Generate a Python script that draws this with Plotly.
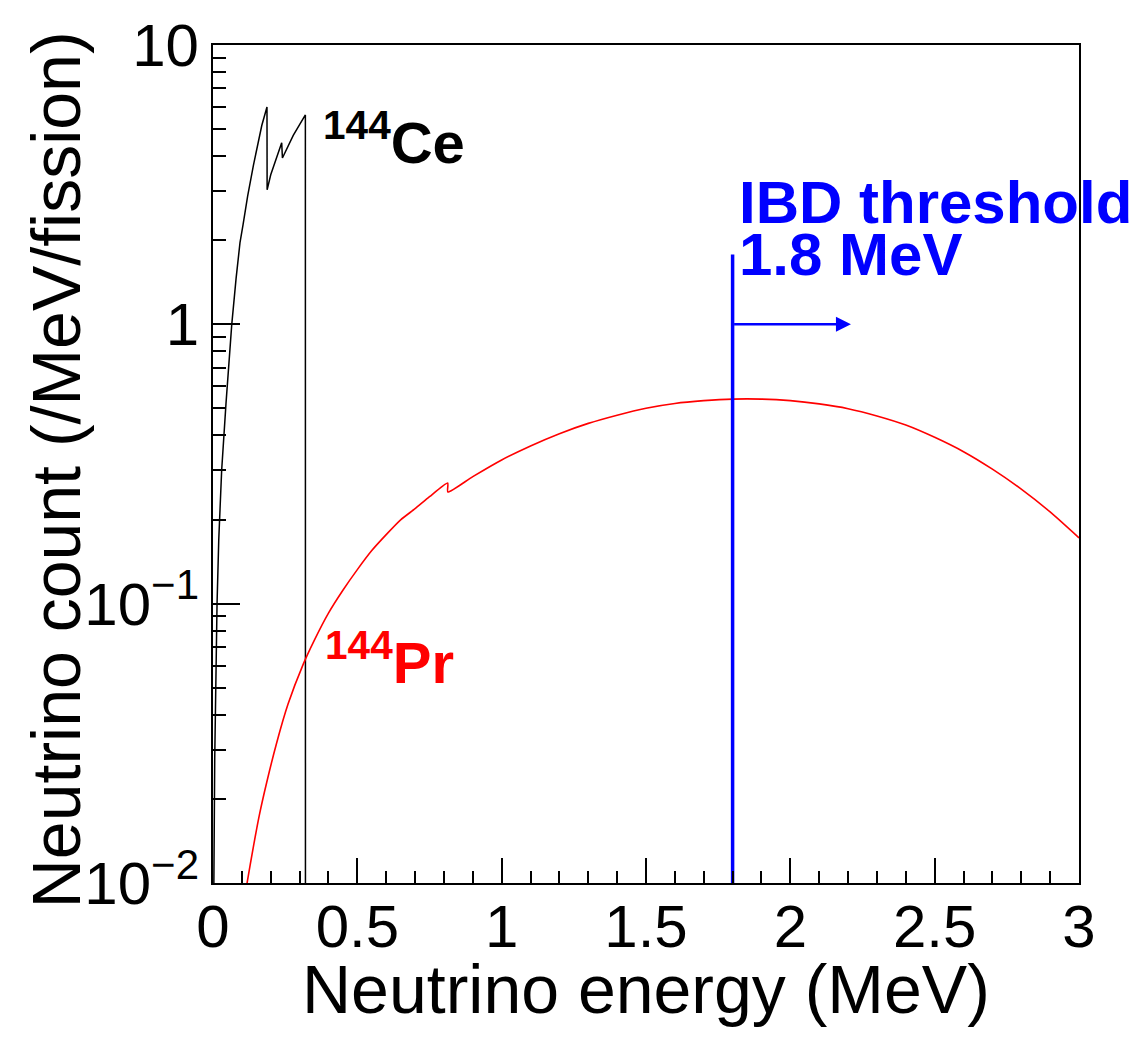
import math
import plotly.graph_objects as go

# ---- data ----
ce_energy = [0.0, 0.001, 0.003, 0.006, 0.010, 0.014, 0.020, 0.030, 0.045, 0.065,
             0.080, 0.0935, 0.104, 0.120, 0.140, 0.155, 0.169, 0.187, 0.1875,
             0.200, 0.215, 0.238, 0.2405, 0.260, 0.278, 0.300, 0.320, 0.3205]
ce_count = [1e-4, 0.002, 0.010, 0.028, 0.058, 0.10, 0.17, 0.30, 0.52, 1.0,
            1.46, 1.96, 2.27, 2.88, 3.71, 4.40, 5.15, 6.0, 3.03,
            3.43, 3.82, 4.47, 3.94, 4.37, 4.75, 5.19, 5.62, 1e-4]

pr_energy = [0.105, 0.118, 0.140, 0.160, 0.186, 0.220, 0.260, 0.312, 0.350, 0.400,
             0.450, 0.500, 0.550, 0.600, 0.650, 0.700, 0.750, 0.813, 0.8135,
             0.900, 1.000, 1.100, 1.200, 1.300, 1.400, 1.500, 1.600, 1.700,
             1.800, 1.900, 2.000, 2.100, 2.200, 2.300, 2.400, 2.500, 2.600,
             2.700, 2.800, 2.900, 3.000]
pr_count = [0.0082, 0.010, 0.0135, 0.0174, 0.0229, 0.0316, 0.0437, 0.0605, 0.0736, 0.0925,
            0.1117, 0.1324, 0.1549, 0.1766, 0.1995, 0.2188, 0.2415, 0.2704, 0.251,
            0.285, 0.327, 0.367, 0.406, 0.442, 0.473, 0.501, 0.521, 0.533,
            0.540, 0.540, 0.533, 0.519, 0.499, 0.470, 0.436, 0.394, 0.350,
            0.303, 0.257, 0.213, 0.172]

ibd_energy = [1.8, 1.8]
ibd_count = [0.01, 1.78]
arrow_start = 1.8
arrow_end = 2.21
arrow_level = 1.0

x_tickvals = [0, 0.5, 1, 1.5, 2, 2.5, 3]
x_ticktext = ["0", "0.5", "1", "1.5", "2", "2.5", "3"]
y_tickvals = [0.01, 0.1, 1, 10]
y_ticktext = ["10<sup>\u22122</sup>", "10<sup>\u22121</sup>", "1", "10"]

FONT = "Liberation Sans, Arial, Helvetica, sans-serif"

fig = go.Figure()
fig.add_trace(go.Scatter(x=ce_energy, y=ce_count, mode="lines",
                         line=dict(color="black", width=1.5), showlegend=False))
fig.add_trace(go.Scatter(x=pr_energy, y=pr_count, mode="lines",
                         line=dict(color="red", width=1.6, shape="spline", smoothing=0.6),
                         showlegend=False))
fig.add_trace(go.Scatter(x=ibd_energy, y=ibd_count, mode="lines",
                         line=dict(color="blue", width=3.5), showlegend=False))

fig.add_annotation(x=arrow_end, y=math.log10(arrow_level), ax=arrow_start,
                   ay=math.log10(arrow_level), xref="x", yref="y", axref="x", ayref="y",
                   text="", showarrow=True, arrowhead=2, arrowwidth=2.5,
                   arrowsize=1.2, arrowcolor="blue", standoff=0, startstandoff=0)

# labels
fig.add_annotation(x=0.373, y=math.log10(4.64), xref="x", yref="y",
                   text="<b><sup>144</sup>Ce</b>", showarrow=False,
                   xanchor="left", yanchor="middle",
                   font=dict(family=FONT, size=58, color="black"))
fig.add_annotation(x=0.38, y=math.log10(0.0635), xref="x", yref="y",
                   text="<b><sup>144</sup>Pr</b>", showarrow=False,
                   xanchor="left", yanchor="middle",
                   font=dict(family=FONT, size=58, color="red"))
fig.add_annotation(x=1.815, y=math.log10(2.72), xref="x", yref="y",
                   text="<b>IBD threshold</b>", showarrow=False,
                   xanchor="left", yanchor="middle",
                   font=dict(family=FONT, size=60, color="blue"))
fig.add_annotation(x=1.815, y=math.log10(1.78), xref="x", yref="y",
                   text="<b>1.8 MeV</b>", showarrow=False,
                   xanchor="left", yanchor="middle",
                   font=dict(family=FONT, size=60, color="blue"))

# axis titles
fig.add_annotation(x=0.5, y=-0.1265, xref="paper", yref="paper",
                   text="Neutrino energy (MeV)", showarrow=False,
                   xanchor="center", yanchor="middle",
                   font=dict(family=FONT, size=68, color="black"))
fig.add_annotation(x=-0.182, y=0.493, xref="paper", yref="paper",
                   text="Neutrino count (/MeV/fission)", showarrow=False,
                   textangle=-90, xanchor="center", yanchor="middle",
                   font=dict(family=FONT, size=68, color="black"))

fig.update_xaxes(range=[0, 3], tickvals=x_tickvals, ticktext=x_ticktext,
                 ticks="inside", ticklen=25, tickwidth=2, tickcolor="black",
                 ticklabelstandoff=-10,
                 minor=dict(dtick=0.1, ticks="inside", ticklen=12, tickwidth=2,
                            tickcolor="black", showgrid=False),
                 showline=True, mirror=True, linewidth=2, linecolor="black",
                 showgrid=False, zeroline=False,
                 tickfont=dict(family=FONT, size=60, color="black"))
fig.update_yaxes(type="log", range=[-2, 1], tickvals=y_tickvals, ticktext=y_ticktext,
                 ticks="inside", ticklen=27, tickwidth=2, tickcolor="black",
                 minor=dict(dtick="D1", ticks="inside", ticklen=13, tickwidth=2,
                            tickcolor="black", showgrid=False),
                 showline=True, mirror=True, linewidth=2, linecolor="black",
                 showgrid=False, zeroline=False,
                 tickfont=dict(family=FONT, size=60, color="black"))

fig.update_layout(width=1137, height=1039,
                  margin=dict(l=213, r=58, t=39, b=156, pad=0),
                  plot_bgcolor="white", paper_bgcolor="white",
                  font=dict(family=FONT, color="black"))

fig.write_html("out.html")
